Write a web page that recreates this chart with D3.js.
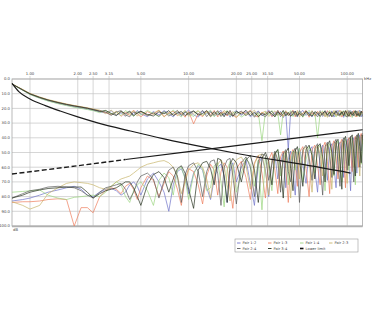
<!DOCTYPE html>
<html>
<head>
<meta charset="utf-8">
<script src="https://cdn.jsdelivr.net/npm/d3@7/dist/d3.min.js"></script>
<style>
  body { margin: 0; background: #fff; }
  text { font-family: "DejaVu Sans", sans-serif; }
</style>
</head>
<body>
<svg id="chart" width="374" height="326"></svg>
<script>
// frequency grid (MHz), shared by all pair traces
var freqs = [0.77, 0.9, 1.0, 1.15, 1.3, 1.5, 1.7, 1.9, 2.1, 2.3,
  2.5, 2.75, 3.0, 3.25, 3.5, 3.75, 4.0, 4.25, 4.5, 4.75,
  5.0, 5.5, 6.0, 6.5, 7.0, 7.5, 8.0, 8.5, 9.0, 9.5,
  10, 10.75, 11.5, 12.25, 13, 13.75, 14.5, 15.25, 16, 16.75,
  17.5, 18.25, 19, 20, 21.5, 23, 24.5, 26, 27.5, 29,
  30.5, 32, 33.5, 35, 36.5, 38, 39.5, 41, 42.5, 44,
  45.5, 47, 48.5, 50, 52.5, 55, 57.5, 60, 62.5, 65,
  67.5, 70, 72.5, 75, 77.5, 80, 82.5, 85, 87.5, 90,
  92.5, 95, 97.5, 100, 102.5, 105, 107.5, 110, 112.5, 115,
  117.5, 120, 122.5, 125];

var pairNames = ["Pair 1-2", "Pair 1-3", "Pair 1-4", "Pair 2-3", "Pair 2-4", "Pair 3-4"];
var pairColors = ["#6f73c9", "#ee7d5c", "#9bd67f", "#c7b46a", "#5a5a5a", "#26321f"];

// upper traces (dB)
var upper12 = [3.4, 7.6, 10.4, 12.9, 14.8, 16.5, 17.8, 18.9, 19.7, 20.5,
  21.3, 22.4, 23.1, 21.6, 24.6, 23.0, 25.4, 22.3, 24.2, 21.4,
  23.7, 25.6, 22.1, 24.4, 21.5, 23.5, 25.8, 22.4, 24.9, 23.0,
  21.2, 24.4, 25.9, 22.0, 23.8, 21.8, 25.2, 23.3, 21.3, 24.8,
  22.6, 26.0, 23.1, 21.5, 24.7, 22.3, 25.7, 23.7, 21.7, 25.1,
  23.2, 21.1, 25.4, 22.7, 24.5, 22.0, 26.3, 23.4, 48.0, 22.2,
  25.0, 21.8, 25.6, 23.6, 21.4, 24.8, 22.5, 25.8, 23.0, 24.3,
  21.5, 25.5, 23.5, 22.1, 25.1, 21.7, 25.9, 23.3, 21.3, 24.7,
  22.7, 26.1, 23.1, 21.9, 24.9, 21.5, 25.4, 23.7, 22.2, 25.2,
  23.2, 21.2, 25.7, 23.8];
var upper13 = [3.4, 7.3, 10.0, 12.4, 14.2, 15.9, 17.2, 18.2, 19.0, 19.8,
  20.6, 21.7, 22.8, 24.4, 21.9, 25.4, 22.7, 24.7, 21.2, 23.8,
  25.7, 22.2, 24.1, 21.3, 25.5, 23.2, 21.8, 25.0, 23.0, 26.0,
  22.1, 30.5, 23.6, 25.6, 21.7, 24.2, 21.4, 25.8, 23.1, 22.3,
  25.2, 21.9, 24.5, 26.2, 22.4, 23.5, 21.2, 24.9, 25.9, 22.5,
  24.0, 21.8, 25.6, 24.2, 21.5, 23.7, 25.4, 22.1, 24.6, 23.1,
  21.3, 25.8, 22.7, 24.4, 23.4, 21.4, 26.0, 23.0, 25.0, 22.0,
  24.3, 22.3, 25.7, 21.5, 23.6, 25.4, 22.2, 24.7, 23.2, 21.2,
  25.9, 23.3, 21.8, 25.1, 22.5, 25.6, 23.6, 21.5, 24.2, 25.8,
  22.4, 24.6, 23.0, 21.9];
var upper14 = [3.4, 7.7, 10.6, 13.1, 15.0, 16.8, 18.1, 19.2, 20.0, 20.8,
  21.5, 22.9, 21.3, 23.9, 22.3, 24.9, 21.5, 23.3, 25.4, 22.1,
  24.5, 21.4, 23.6, 25.6, 22.3, 24.2, 21.1, 23.9, 25.8, 21.9,
  23.5, 25.5, 21.7, 24.7, 23.0, 21.3, 25.7, 22.6, 24.4, 23.4,
  21.5, 25.1, 23.2, 22.2, 25.9, 23.8, 21.8, 24.8, 23.0, 42.0,
  22.3, 24.6, 21.4, 25.4, 23.3, 38.0, 22.1, 25.0, 23.6, 21.5,
  25.6, 23.1, 24.3, 22.0, 26.0, 23.5, 21.3, 24.9, 22.7, 40.0,
  23.4, 21.7, 25.5, 23.7, 21.4, 25.2, 22.4, 25.8, 23.2, 21.8,
  24.7, 21.5, 25.7, 23.0, 25.0, 22.1, 26.2, 23.6, 21.9, 24.4,
  25.4, 22.4, 23.9, 24.8];
var upper23 = [3.4, 7.1, 9.8, 12.2, 14.0, 15.6, 17.0, 18.0, 18.8, 19.6,
  20.4, 21.2, 23.6, 21.2, 24.2, 22.0, 25.2, 23.1, 21.7, 25.3,
  22.5, 24.7, 23.2, 21.2, 25.9, 22.7, 24.6, 21.8, 23.8, 21.3,
  25.4, 23.3, 21.5, 25.0, 22.3, 25.8, 23.7, 21.9, 24.9, 21.4,
  23.1, 24.3, 22.1, 26.1, 22.7, 24.5, 23.6, 21.2, 25.3, 23.0,
  21.9, 25.5, 23.5, 21.7, 24.9, 22.6, 25.7, 21.5, 23.4, 25.2,
  22.2, 24.4, 21.4, 25.9, 23.1, 22.3, 24.7, 21.5, 25.4, 23.3,
  21.8, 24.9, 23.0, 26.1, 22.0, 23.9, 21.4, 24.8, 23.6, 25.6,
  21.7, 24.5, 23.4, 21.3, 25.5, 22.6, 24.2, 22.3, 25.8, 23.2,
  21.5, 25.1, 22.2, 23.7];
var upper24 = [3.4, 7.5, 10.2, 12.6, 14.4, 16.1, 17.4, 18.4, 19.2, 19.9,
  20.7, 21.8, 22.5, 24.7, 22.5, 21.5, 24.4, 25.7, 22.4, 23.5,
  21.8, 24.9, 23.0, 25.4, 22.1, 25.2, 23.4, 21.4, 24.6, 22.3,
  24.3, 22.0, 23.9, 21.4, 25.6, 22.4, 24.3, 21.5, 25.5, 23.3,
  24.5, 21.3, 25.4, 23.4, 21.9, 25.0, 21.7, 26.0, 22.3, 24.4,
  25.7, 23.0, 22.0, 24.7, 21.4, 25.6, 23.5, 22.4, 24.9, 23.0,
  21.7, 24.6, 25.5, 21.5, 24.4, 22.7, 25.2, 22.1, 23.7, 25.7,
  22.5, 24.3, 21.5, 24.9, 25.4, 22.3, 23.8, 21.5, 25.0, 23.5,
  23.1, 22.0, 24.8, 26.0, 21.4, 23.9, 21.9, 25.2, 23.4, 21.7,
  24.9, 23.3, 21.8, 25.5];
var upper34 = [3.4, 7.4, 10.1, 12.5, 14.3, 16.0, 17.3, 18.3, 19.1, 19.9,
  20.9, 22.0, 21.5, 23.4, 24.9, 22.1, 23.6, 21.8, 25.1, 23.0,
  22.0, 24.1, 25.2, 22.3, 23.7, 21.5, 24.8, 23.3, 22.1, 24.9,
  23.2, 21.7, 24.6, 23.5, 21.5, 25.4, 22.3, 24.5, 22.7, 25.7,
  21.8, 23.6, 25.3, 22.0, 23.8, 21.3, 24.9, 22.6, 25.6, 23.4,
  24.4, 22.3, 23.8, 25.8, 22.4, 24.2, 21.4, 25.0, 22.7, 25.4,
  23.6, 21.9, 24.8, 23.3, 25.4, 21.7, 23.8, 25.3, 22.2, 23.1,
  25.5, 23.2, 22.1, 24.5, 22.6, 25.7, 24.2, 22.0, 23.5, 24.7,
  22.3, 25.0, 21.5, 23.8, 25.4, 22.7, 24.6, 23.1, 21.5, 24.9,
  23.5, 25.6, 22.1, 23.0];

// lower traces (dB)
var lower12 = [83, 82, 81, 79, 77, 75.5, 74, 73, 75, 79,
  80, 77, 75, 74.5, 76, 79, 77, 72, 70, 73,
  79, 68, 64, 70, 77, 90, 72, 63, 61, 67,
  78, 64, 59, 62, 74, 82, 68, 60, 58, 66,
  84, 63, 57, 70, 60, 55, 71, 86, 58, 53,
  62, 80, 56, 51, 68, 57, 50, 74, 55, 49,
  64, 79, 52, 47, 58, 71, 49, 46, 62, 77,
  50, 45, 56, 69, 47, 44, 60, 74, 46, 43,
  55, 67, 45, 41, 58, 76, 44, 40, 52, 64,
  42, 38, 49, 41];
var lower13 = [84, 83.5, 83.5, 83, 82, 81.5, 82, 100, 87.5, 87.5,
  91, 80, 76, 74, 75, 78, 73, 71, 75, 82,
  74, 66, 69, 80, 71, 63, 66, 75, 86, 68,
  61, 63, 72, 85, 66, 58, 62, 79, 63, 57,
  60, 75, 88, 61, 56, 67, 82, 57, 52, 64,
  81, 55, 50, 62, 78, 53, 49, 61, 84, 52,
  48, 57, 73, 50, 46, 61, 80, 48, 45, 59,
  72, 47, 43, 56, 78, 46, 42, 53, 68, 44,
  41, 52, 74, 43, 40, 50, 63, 42, 39, 47,
  60, 40, 37, 44];
var lower14 = [77, 76.5, 76, 75.5, 79, 81, 82, 80.5, 80, 79.5,
  79, 80, 77, 73, 70, 72, 80, 84, 76, 72,
  70, 76, 86, 69, 64, 67, 79, 62, 60, 68,
  82, 65, 58, 61, 76, 74, 59, 57, 70, 87,
  62, 56, 59, 77, 64, 54, 58, 73, 55, 89,
  53, 60, 76, 51, 48, 66, 55, 50, 72, 56,
  49, 62, 51, 47, 70, 55, 46, 50, 64, 48,
  45, 58, 76, 47, 44, 54, 66, 45, 42, 57,
  70, 44, 41, 51, 62, 42, 40, 55, 72, 43,
  39, 48, 58, 41];
var lower23 = [83.5, 86, 88.5, 86, 78, 74, 71, 70, 70.5, 71,
  72, 74, 75, 73, 70, 68, 67, 66, 64, 62,
  60, 58, 57, 56, 55.5, 57, 60, 66, 78, 70,
  62, 58, 57, 60, 68, 81, 64, 58, 55, 59,
  72, 83, 60, 55, 53, 59, 75, 58, 52, 51,
  63, 79, 54, 50, 57, 74, 52, 49, 58, 81,
  53, 48, 52, 68, 49, 46, 56, 77, 49, 45,
  51, 66, 47, 44, 55, 75, 46, 43, 50, 64,
  45, 42, 56, 71, 44, 41, 48, 60, 42, 40,
  52, 66, 40, 38];
var lower24 = [81, 78, 76, 75, 73.5, 73, 73.5, 74, 76, 79,
  81, 77, 74, 73, 72, 71, 75, 82, 77, 70,
  66, 64, 68, 81, 69, 62, 60, 66, 84, 65,
  59, 57, 63, 80, 63, 56, 55, 64, 86, 60,
  55, 54, 66, 85, 57, 53, 60, 80, 56, 51,
  52, 69, 58, 49, 55, 77, 51, 48, 63, 70,
  50, 47, 59, 84, 48, 45, 53, 69, 47, 44,
  58, 79, 46, 43, 51, 67, 44, 41, 57, 73,
  43, 40, 49, 62, 41, 39, 53, 70, 41, 38,
  45, 60, 39, 37];
var lower34 = [81, 79, 77, 75.5, 74.5, 74, 73.5, 73.5, 73.5, 77,
  81, 78, 76, 75, 74, 72, 70, 70, 74, 80,
  86, 72, 65, 63, 67, 77, 68, 61, 59, 64,
  75, 88, 62, 57, 56, 61, 72, 54, 55, 66,
  84, 58, 54, 57, 70, 55, 52, 62, 84, 54,
  50, 56, 72, 51, 48, 59, 81, 50, 47, 61,
  76, 49, 46, 55, 73, 48, 45, 52, 68, 46,
  44, 53, 70, 45, 42, 50, 65, 43, 41, 56,
  75, 42, 39, 47, 59, 40, 38, 51, 66, 40,
  37, 46, 57, 38];

var upperData = [upper12, upper13, upper14, upper23, upper24, upper34];
var lowerData = [lower12, lower13, lower14, lower23, lower24, lower34];

// descending black curve
var curveFreq = [0.77, 0.85, 1.0, 1.25, 1.55, 2.0, 2.7, 4.3, 7, 13, 21, 40, 50, 105];
var curveVal = [3.0, 8.6, 13.6, 18.1, 21.8, 25.8, 30.0, 35.4, 40.7, 46.7, 51.0, 56.1, 57.8, 64.0];

// lower limit
var limitFreq = [0.77, 1, 2, 4, 10, 20, 50, 100, 125];
var limitVal = [64.6, 63.1, 59.0, 54.8, 49.4, 45.3, 39.9, 35.8, 34.5];

var xTicks = [1, 2, 2.5, 3.15, 5, 10, 20, 25, 31.5, 50, 100];
var xTickLabels = ["1.00", "2.00", "2.50", "3.15", "5.00", "10.00", "20.00", "25.00", "31.50", "50.00", "100.00"];
var yTicks = [0, 10, 20, 30, 40, 50, 60, 70, 80, 90, 100];

var svg = d3.select("#chart");
var plotLeft = 12, plotRight = 362.6, plotTop = 79, plotBottom = 226;

var x = d3.scaleLog().domain([0.77, 125]).range([plotLeft, plotRight]);
var y = d3.scaleLinear().domain([0, 100]).range([plotTop, plotBottom]);

// grid
svg.append("g")
  .selectAll("line")
  .data(yTicks)
  .enter()
  .append("line")
  .attr("x1", plotLeft).attr("x2", plotRight)
  .attr("y1", d => y(d)).attr("y2", d => y(d))
  .attr("stroke", "#c4c4c4")
  .attr("stroke-width", 0.7);

svg.append("g")
  .selectAll("line")
  .data(xTicks)
  .enter()
  .append("line")
  .attr("x1", d => x(d)).attr("x2", d => x(d))
  .attr("y1", plotTop - 3).attr("y2", plotBottom)
  .attr("stroke", "#c4c4c4")
  .attr("stroke-width", 0.7);

// frame
svg.append("rect")
  .attr("x", plotLeft).attr("y", plotTop)
  .attr("width", plotRight - plotLeft).attr("height", plotBottom - plotTop)
  .attr("fill", "none")
  .attr("stroke", "#a8a8a8")
  .attr("stroke-width", 0.8);
svg.append("line")
  .attr("x1", plotLeft).attr("x2", plotRight)
  .attr("y1", plotBottom + 0.5).attr("y2", plotBottom + 0.5)
  .attr("stroke", "#b0b0b0")
  .attr("stroke-width", 1.5);

// tick labels
svg.append("g")
  .selectAll("text")
  .data(yTicks)
  .enter()
  .append("text")
  .attr("x", plotLeft - 2)
  .attr("y", d => y(d) + 1.3)
  .attr("text-anchor", "end")
  .attr("font-size", "3.8px")
  .attr("fill", "#444")
  .text(d => d.toFixed(1));

svg.append("g")
  .selectAll("text")
  .data(xTicks)
  .enter()
  .append("text")
  .attr("x", d => x(d))
  .attr("y", plotTop - 4.5)
  .attr("text-anchor", "middle")
  .attr("font-size", "3.8px")
  .attr("fill", "#444")
  .text((d, i) => xTickLabels[i]);

svg.append("text")
  .attr("x", plotRight + 1.5).attr("y", plotTop + 1.3)
  .attr("font-size", "3.8px").attr("fill", "#444")
  .text("kHz");
svg.append("text")
  .attr("x", plotLeft + 1).attr("y", plotBottom + 5)
  .attr("font-size", "3.8px").attr("fill", "#444")
  .text("dB");

// traces
var line = d3.line()
  .x(d => x(d[0]))
  .y(d => y(d[1]));

var plot = svg.append("g");

function drawSet(set) {
  set.forEach((vals, i) => {
    plot.append("path")
      .datum(freqs.map((f, j) => [f, vals[j]]))
      .attr("d", line)
      .attr("fill", "none")
      .attr("stroke", pairColors[i])
      .attr("stroke-width", 0.7);
  });
}
drawSet(upperData);
drawSet(lowerData);

var smooth = d3.line()
  .x(d => x(d[0]))
  .y(d => y(d[1]))
  .curve(d3.curveMonotoneX);

plot.append("path")
  .datum(curveFreq.map((f, i) => [f, curveVal[i]]))
  .attr("d", smooth)
  .attr("fill", "none")
  .attr("stroke", "#1a1a1a")
  .attr("stroke-width", 1.2);

var limitPts = limitFreq.map((f, i) => [f, limitVal[i]]);
plot.append("path")
  .datum(limitPts.filter(d => d[0] <= 4))
  .attr("d", line)
  .attr("fill", "none")
  .attr("stroke", "#1a1a1a")
  .attr("stroke-width", 1.4)
  .attr("stroke-dasharray", "5,2.5");
plot.append("path")
  .datum(limitPts.filter(d => d[0] >= 4))
  .attr("d", line)
  .attr("fill", "none")
  .attr("stroke", "#1a1a1a")
  .attr("stroke-width", 1.1);

// legend
var legend = svg.append("g").attr("transform", "translate(235,239)");
legend.append("rect")
  .attr("width", 123).attr("height", 13)
  .attr("fill", "#fff")
  .attr("stroke", "#9a9a9a")
  .attr("stroke-width", 0.6);

var legendItems = pairNames.map((n, i) => ({ name: n, color: pairColors[i], w: 0.9 }));
legendItems.push({ name: "Lower limit", color: "#111", w: 1.6 });
var colX = [2, 33, 65, 94];

legendItems.forEach((d, i) => {
  var cx = colX[i % 4], cy = i < 4 ? 4 : 9.5;
  legend.append("line")
    .attr("x1", cx).attr("x2", cx + 3.5)
    .attr("y1", cy).attr("y2", cy)
    .attr("stroke", d.color)
    .attr("stroke-width", d.w);
  legend.append("text")
    .attr("x", cx + 5.5).attr("y", cy + 1.2)
    .attr("font-size", "3.6px")
    .attr("fill", "#444")
    .text(d.name);
});
</script>
</body>
</html>
